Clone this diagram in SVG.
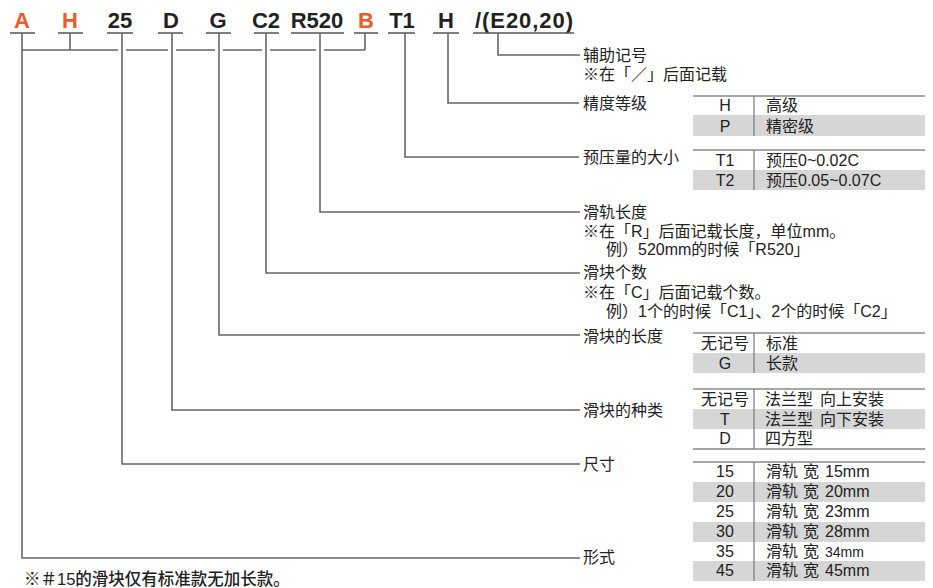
<svg xmlns="http://www.w3.org/2000/svg" width="933" height="588" viewBox="0 0 933 588">
<style>
.code{font-family:"Liberation Sans",Arial,sans-serif;font-weight:bold;font-size:22px;fill:#222;text-anchor:middle}
.or{fill:#ee5a2a}
.ul{stroke:#555;stroke-width:1.5;fill:none}
.ln{stroke:#666;stroke-width:1.6;fill:none}
.lb{font-family:"Liberation Sans","Noto Sans CJK SC",sans-serif;font-size:16px;fill:#222}
.tb{font-family:"Liberation Sans","Noto Sans CJK SC",sans-serif;font-size:16px;fill:#222}
.tc{text-anchor:middle}
.g{fill:#d6d6d6}
.tl{stroke:#8a8a8a;stroke-width:1.5}
.dv{stroke:#777;stroke-width:1.2}
</style>
<rect width="933" height="588" fill="#fff"/>
<g id="codes">
<text class="code or" x="22" y="28">A</text>
<text class="code or" x="70" y="28">H</text>
<text class="code" x="120" y="28">25</text>
<text class="code" x="171" y="28">D</text>
<text class="code" x="218" y="28">G</text>
<text class="code" x="266" y="28">C2</text>
<text class="code" x="317" y="28">R520</text>
<text class="code or" x="366" y="28">B</text>
<text class="code" x="402" y="28">T1</text>
<text class="code" x="446" y="28">H</text>
<text class="code" x="475" y="28" style="text-anchor:start" textLength="98" lengthAdjust="spacing">/(E20,20)</text>
<path class="ul" d="M10 33H35M58 33H83M107 33H133M158 33H183M206 33H231M254 33H279M291 33H344M354 33H378M388 33H415M433 33H459M473 33H574"/>
</g>
<g id="connectors">
<path class="ln" d="M22 33V558H580"/>
<path class="ln" d="M70 33V50"/>
<path class="ln" d="M365 33V50"/>
<path class="ln" d="M22 50H118M126 50H168M176 50H215M223 50H262M270 50H316M324 50H365"/>
<path class="ln" d="M122 33V464H580"/>
<path class="ln" d="M172 33V410H580"/>
<path class="ln" d="M219 33V335H580"/>
<path class="ln" d="M266 33V273H580"/>
<path class="ln" d="M320 33V212H580"/>
<path class="ln" d="M405 33V157H579"/>
<path class="ln" d="M448 33V103H579"/>
<path class="ln" d="M498 33V55H580"/>
</g>
<g id="labels">
<text class="lb" x="583" y="61">辅助记号</text>
<text class="lb" x="583" y="80">※在「／」后面记载</text>
<text class="lb" x="583" y="109">精度等级</text>
<text class="lb" x="583" y="163">预压量的大小</text>
<text class="lb" x="583" y="218">滑轨长度</text>
<text class="lb" x="583" y="237">※在「R」后面记载长度，单位mm。</text>
<text class="lb" x="606" y="255">例）520mm的时候「R520」</text>
<text class="lb" x="583" y="278">滑块个数</text>
<text class="lb" x="583" y="298">※在「C」后面记载个数。</text>
<text class="lb" x="606" y="317">例）1个的时候「C1」、2个的时候「C2」</text>
<text class="lb" x="583" y="342">滑块的长度</text>
<text class="lb" x="583" y="416">滑块的种类</text>
<text class="lb" x="583" y="470">尺寸</text>
<text class="lb" x="583" y="563">形式</text>
</g>
<g id="table-precision">
<rect class="g" x="693" y="115" width="232" height="21"/>
<line class="tl" x1="693" y1="96" x2="925" y2="96"/>
<line class="dv" x1="754" y1="96" x2="754" y2="136"/>
<text class="tb tc" x="725" y="111">H</text><text class="tb" x="766" y="111">高级</text>
<text class="tb tc" x="725" y="132">P</text><text class="tb" x="766" y="132">精密级</text>
</g>
<g id="table-preload">
<rect class="g" x="693" y="170" width="232" height="20"/>
<line class="tl" x1="693" y1="150" x2="925" y2="150"/>
<line class="dv" x1="754" y1="150" x2="754" y2="190"/>
<text class="tb tc" x="725" y="166">T1</text><text class="tb" x="766" y="166">预压0~0.02C</text>
<text class="tb tc" x="725" y="186">T2</text><text class="tb" x="766" y="186">预压0.05~0.07C</text>
</g>
<g id="table-length">
<rect class="g" x="693" y="353" width="232" height="20"/>
<line class="tl" x1="693" y1="333" x2="925" y2="333"/>
<line class="dv" x1="754" y1="333" x2="754" y2="373"/>
<text class="tb tc" x="725" y="349">无记号</text><text class="tb" x="766" y="349">标准</text>
<text class="tb tc" x="725" y="369">G</text><text class="tb" x="766" y="369">长款</text>
</g>
<g id="table-type">
<rect class="g" x="693" y="409" width="232" height="20"/>
<line class="tl" x1="693" y1="389" x2="925" y2="389"/>
<line class="tl" x1="693" y1="449" x2="925" y2="449"/>
<line class="dv" x1="754" y1="389" x2="754" y2="449"/>
<text class="tb tc" x="725" y="405">无记号</text><text class="tb" x="765" y="405">法兰型<tspan x="820">向上安装</tspan></text>
<text class="tb tc" x="725" y="425">T</text><text class="tb" x="765" y="425">法兰型<tspan x="820">向下安装</tspan></text>
<text class="tb tc" x="725" y="444">D</text><text class="tb" x="765" y="444">四方型</text>
</g>
<g id="table-size">
<rect class="g" x="693" y="482" width="232" height="20"/>
<rect class="g" x="693" y="522" width="232" height="20"/>
<rect class="g" x="693" y="561" width="232" height="20"/>
<line class="tl" x1="693" y1="462" x2="925" y2="462"/>
<line class="dv" x1="754" y1="462" x2="754" y2="581"/>
<text class="tb tc" x="725" y="477">15</text><text class="tb" x="766" y="477">滑轨<tspan x="803">宽</tspan><tspan x="825">15mm</tspan></text>
<text class="tb tc" x="725" y="497">20</text><text class="tb" x="766" y="497">滑轨<tspan x="803">宽</tspan><tspan x="825">20mm</tspan></text>
<text class="tb tc" x="725" y="517">25</text><text class="tb" x="766" y="517">滑轨<tspan x="803">宽</tspan><tspan x="825">23mm</tspan></text>
<text class="tb tc" x="725" y="537">30</text><text class="tb" x="766" y="537">滑轨<tspan x="803">宽</tspan><tspan x="825">28mm</tspan></text>
<text class="tb tc" x="725" y="557">35</text><text class="tb" x="766" y="557">滑轨<tspan x="803">宽</tspan><tspan x="825" style="font-size:14px">34mm</tspan></text>
<text class="tb tc" x="725" y="576">45</text><text class="tb" x="766" y="576">滑轨<tspan x="803">宽</tspan><tspan x="825">45mm</tspan></text>
</g>
<g id="footnote">
<text class="lb" x="24" y="585" style="font-size:16.5px;font-weight:500">※＃15的滑块仅有标准款无加长款。</text>
</g>
</svg>
